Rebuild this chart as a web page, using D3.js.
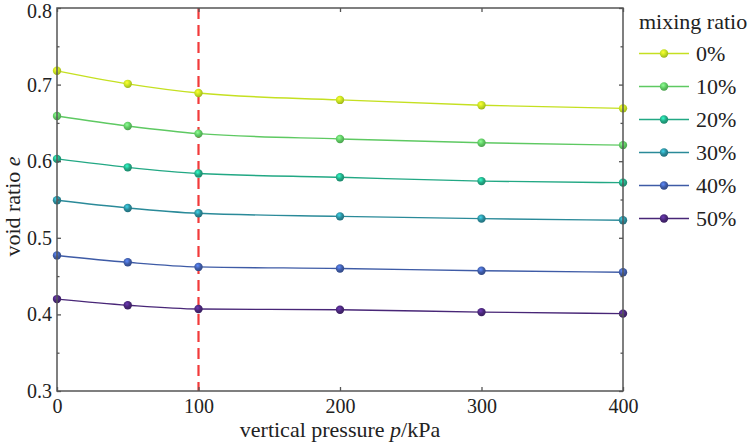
<!DOCTYPE html>
<html><head><meta charset="utf-8">
<script src="https://cdn.jsdelivr.net/npm/d3@7"></script>
<style>body{margin:0;background:#fff}svg{display:block}svg text{font-family:"Liberation Serif","Times New Roman",Times,Tinos,"Nimbus Roman","DejaVu Serif",serif !important;fill:#222}</style>
</head><body><svg id="c" width="751" height="443"></svg>
<script>
const pressures = [0, 50, 100, 200, 300, 400];
const seriesNames = ["0%", "10%", "20%", "30%", "40%", "50%"];
const s0 = [0.718, 0.701, 0.689, 0.680, 0.673, 0.669];
const s10 = [0.659, 0.646, 0.636, 0.629, 0.624, 0.621];
const s20 = [0.603, 0.592, 0.584, 0.579, 0.574, 0.572];
const s30 = [0.549, 0.539, 0.532, 0.528, 0.525, 0.523];
const s40 = [0.477, 0.468, 0.462, 0.460, 0.457, 0.455];
const s50 = [0.420, 0.412, 0.407, 0.406, 0.403, 0.401];
const seriesValues = [s0, s10, s20, s30, s40, s50];
const colors = ["#c5e021", "#5ec962", "#22a884", "#2a8a99", "#3e5ba6", "#482677"];
const xTicks = [0, 100, 200, 300, 400];
const yTicks = [0.3, 0.4, 0.5, 0.6, 0.7, 0.8];
const yMinor = [0.35, 0.45, 0.55, 0.65, 0.75];
const markerP = 100;

const svg = d3.select("#c");
const L = 57, R = 623, T = 8, B = 391;
const x = d3.scaleLinear().domain([0, 400]).range([L, R]);
const y = d3.scaleLinear().domain([0.3, 0.8]).range([B, T]);
const axisCol = "#555";

const defs = svg.append("defs");
colors.forEach((c, i) => {
  const g = defs.append("radialGradient").attr("id", "g" + i).attr("cx", "40%").attr("cy", "35%").attr("r", "65%");
  g.append("stop").attr("offset", "0%").attr("stop-color", d3.color(c).brighter(1.2));
  g.append("stop").attr("offset", "55%").attr("stop-color", c);
  g.append("stop").attr("offset", "100%").attr("stop-color", d3.color(c).darker(0.6));
});

svg.append("line").attr("x1", x(markerP)).attr("x2", x(markerP)).attr("y1", T).attr("y2", B)
  .attr("stroke", "#f23a3a").attr("stroke-width", 2.2).attr("stroke-dasharray", "11,6");

const line = d3.line().x((d, i) => x(pressures[i])).y(d => y(d)).curve(d3.curveMonotoneX);
seriesValues.forEach((vals, si) => {
  svg.append("path").datum(vals).attr("d", line).attr("fill", "none")
    .attr("stroke", colors[si]).attr("stroke-width", 1.4);
  svg.selectAll(null).data(vals).enter().append("circle")
    .attr("cx", (d, i) => x(pressures[i])).attr("cy", d => y(d)).attr("r", 4.2)
    .attr("fill", "url(#g" + si + ")");
});

svg.append("rect").attr("x", L).attr("y", T).attr("width", R - L).attr("height", B - T)
  .attr("fill", "none").attr("stroke", axisCol).attr("stroke-width", 1.5);

const gx = svg.append("g").attr("transform", `translate(0,${B})`)
  .call(d3.axisBottom(x).tickValues(xTicks).tickSize(-4).tickPadding(8).tickFormat(d3.format("d")));
const gxt = svg.append("g").attr("transform", `translate(0,${T})`)
  .call(d3.axisTop(x).tickValues(xTicks).tickSize(-4).tickFormat(""));
const gy = svg.append("g").attr("transform", `translate(${L},0)`)
  .call(d3.axisLeft(y).tickValues(yTicks).tickSize(-4).tickPadding(5).tickFormat(d3.format(".1f")));
const gym = svg.append("g").attr("transform", `translate(${L},0)`)
  .call(d3.axisLeft(y).tickValues(yMinor).tickSize(-2.5).tickFormat(""));
const gyr = svg.append("g").attr("transform", `translate(${R},0)`)
  .call(d3.axisRight(y).tickValues(yTicks).tickSize(-4).tickFormat(""));
const gyrm = svg.append("g").attr("transform", `translate(${R},0)`)
  .call(d3.axisRight(y).tickValues(yMinor).tickSize(-2.5).tickFormat(""));
[gx, gxt, gy, gym, gyr, gyrm].forEach(g => {
  g.attr("font-family", null);
  g.select(".domain").remove();
  g.selectAll(".tick line").attr("stroke", axisCol).attr("stroke-width", 1.3);
  g.selectAll("text").style("font-size", "20px").attr("fill", "#222");
});
gy.selectAll(".tick text").filter(d => d === 0.8).attr("dy", "0.45em");

svg.append("text").attr("x", (L + R) / 2).attr("y", 437).attr("text-anchor", "middle")
  .style("font-size", "22px")
  .html('vertical pressure <tspan font-style="italic">p</tspan>/kPa');
svg.append("text").attr("transform", `translate(20,${(T + B) / 2 + 7}) rotate(-90)`)
  .attr("text-anchor", "middle").style("font-size", "22px")
  .html('void ratio <tspan font-style="italic">e</tspan>');

svg.append("text").attr("x", 639).attr("y", 29).style("font-size", "22px").text("mixing ratio");
seriesNames.forEach((n, i) => {
  const ly = 53.5 + i * 33;
  svg.append("line").attr("x1", 639).attr("x2", 689).attr("y1", ly).attr("y2", ly)
    .attr("stroke", colors[i]).attr("stroke-width", 1.4);
  svg.append("circle").attr("cx", 664).attr("cy", ly).attr("r", 4.2).attr("fill", "url(#g" + i + ")");
  svg.append("text").attr("x", 696).attr("y", ly + 7).style("font-size", "22px").text(n);
});
</script></body></html>
